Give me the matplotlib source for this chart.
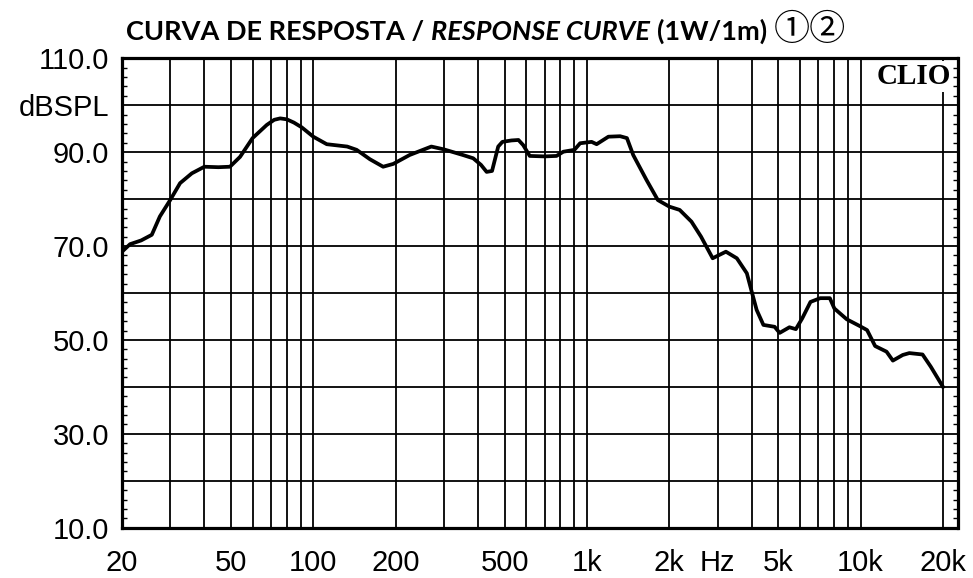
import matplotlib
matplotlib.use("Agg")
import matplotlib.pyplot as plt
from matplotlib.offsetbox import TextArea, HPacker, AnchoredOffsetbox

# --- response curve (Hz, dB SPL) ---
freq = [20, 21.4, 23.5, 25.7, 27.5, 30, 32.6, 36, 40, 45, 49.6, 54, 60, 67.6,
        72, 75.7, 80, 85, 90.7, 100, 112, 133, 144, 161, 180, 196, 225, 270,
        300, 352, 384, 410, 430, 450, 474, 491, 530, 562, 585, 618, 700, 774,
        820, 900, 944, 1040, 1085, 1198, 1322, 1400, 1476, 1650, 1816, 2000,
        2182, 2410, 2612, 2880, 3020, 3220, 3530, 3840, 4000, 4170, 4414, 4852,
        5060, 5494, 5800, 6120, 6560, 7120, 7720, 8020, 8900, 9900, 10560,
        11300, 12440, 13120, 14260, 15070, 16840, 18050, 20000]
spl = [68.8, 70.4, 71.2, 72.4, 76.3, 79.8, 83.4, 85.5, 86.9, 86.8, 86.9, 89.0,
       93.0, 95.8, 96.9, 97.2, 97.0, 96.3, 95.3, 93.3, 91.7, 91.2, 90.5, 88.5,
       86.9, 87.5, 89.4, 91.2, 90.6, 89.4, 88.7, 87.3, 85.8, 86.0, 91.2, 92.2,
       92.5, 92.6, 91.5, 89.2, 89.1, 89.2, 90.1, 90.5, 91.9, 92.2, 91.7, 93.3,
       93.4, 93.0, 89.4, 84.1, 79.8, 78.4, 77.7, 75.2, 72.0, 67.4, 68.0, 68.8,
       67.4, 64.2, 60.3, 56.4, 53.2, 52.8, 51.5, 52.7, 52.3, 54.6, 58.1, 58.9,
       58.9, 56.7, 54.4, 53.0, 52.1, 48.7, 47.5, 45.6, 46.8, 47.2, 46.9, 44.3,
       40.0]

x_ticks = [20, 50, 100, 200, 500, 1000, 2000, 3000, 5000, 10000, 20000]
x_labels = ["20", "50", "100", "200", "500", "1k", "2k", "Hz", "5k", "10k", "20k"]
y_ticks = [10, 20, 30, 40, 50, 60, 70, 80, 90, 100, 110]
y_labels = ["10.0", "", "30.0", "", "50.0", "", "70.0", "", "90.0", "dBSPL", "110.0"]
x_grid = [m * 10 ** e for e in range(1, 5) for m in range(1, 10)]

fig = plt.figure(figsize=(9.73, 5.78), dpi=100)
ax = fig.add_axes([122 / 973, 1 - 527.7 / 578, 835.5 / 973, 469.4 / 578])

ax.plot(freq, spl, color="black", lw=2.7, zorder=3, solid_joinstyle="round")

ax.set_xscale("log")
ax.set_xlim(20, 22600)
ax.set_ylim(10, 110)

# grid
for f in x_grid:
    if 20 < f <= 20000:
        ax.axvline(f, color="black", lw=1.3, zorder=1)
for v in y_ticks[1:-1]:
    ax.axhline(v, color="black", lw=1.3, zorder=1)

ax.set_xticks(x_ticks)
ax.set_xticklabels(x_labels)
ax.xaxis.set_minor_locator(plt.NullLocator())
ax.set_yticks(y_ticks)
ax.set_yticklabels(y_labels)
ax.set_yticks(range(10, 111, 2), minor=True)

ax.tick_params(axis="x", which="major", length=0, pad=15, labelsize=21)
ax.tick_params(axis="y", which="major", length=0, pad=9, labelsize=21)
ax.tick_params(axis="y", which="minor", direction="in", length=3.5, width=1,
               left=True, right=True)
for lab in ax.get_xticklabels() + ax.get_yticklabels():
    lab.set_fontfamily("Liberation Sans")

for s in ax.spines.values():
    s.set_linewidth(2.3)
    s.set_color("black")

ax.text(0.992, 0.99, "CLIO", transform=ax.transAxes, ha="right", va="top",
        fontfamily="Liberation Serif", fontweight="bold", fontsize=21,
        bbox=dict(facecolor="white", edgecolor="none", pad=1.5), zorder=5)

# title with mixed styles
parts = [
    TextArea("CURVA DE RESPOSTA /", textprops=dict(fontfamily="Lato", fontweight="bold", fontsize=19.5)),
    TextArea("RESPONSE CURVE", textprops=dict(fontfamily="Lato", fontweight="bold", fontstyle="italic", fontsize=19.5)),
    TextArea("(1W/1m)", textprops=dict(fontfamily="Lato", fontweight="bold", fontsize=19.5)),
    TextArea("①②", textprops=dict(fontfamily=["Noto Sans CJK JP", "DejaVu Sans"], fontweight="normal", fontsize=26)),
]
title = HPacker(children=parts, align="baseline", pad=0, sep=5)
anchor = AnchoredOffsetbox(loc="center", child=title, pad=0, borderpad=0, frameon=False,
                           bbox_to_anchor=(486 / 973, 1 - 30 / 578),
                           bbox_transform=fig.transFigure)
fig.add_artist(anchor)

fig.savefig("out.png", dpi=100, facecolor="white")
